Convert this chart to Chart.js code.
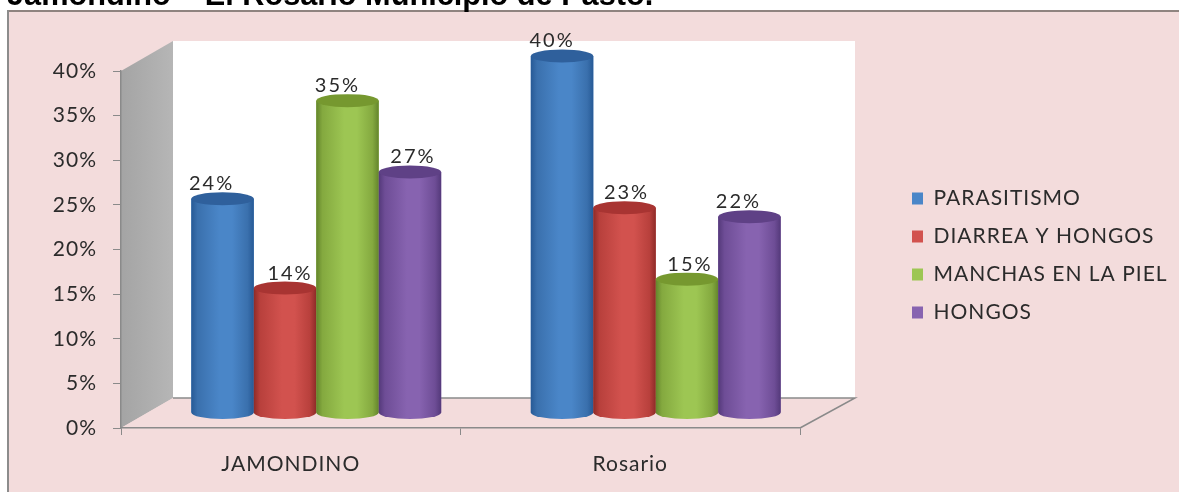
<!DOCTYPE html>
<html>
<head>
<meta charset="utf-8">
<style>
  html, body { margin: 0; padding: 0; background: #fff; overflow: hidden; }
  #wrap { width: 1179px; height: 492px; }
</style>
<script src="https://cdn.jsdelivr.net/npm/chart.js@4"></script>
</head>
<body>
<div id="wrap"><canvas id="grafico" width="1179" height="492"></canvas></div>
<script>
// datos
const categorias = ["JAMONDINO", "Rosario"];
const parasitismo = [24, 40];
const diarrea = [14, 23];
const manchas = [35, 15];
const hongos = [27, 22];
const nombres = ["PARASITISMO", "DIARREA Y HONGOS", "MANCHAS EN LA PIEL", "HONGOS"];
const titulo = "Jamondino – El Rosario Municipio de Pasto.";

const colores = ["#4a86c8", "#d2524e", "#9dc653", "#8763b0"];
const medios = ["#3a70ad", "#b8403c", "#84a93f", "#6e4d96"];
const oscuros = ["#275a96", "#8e2b28", "#64852c", "#54397a"];
const tapas = ["#2f609c", "#a83432", "#76982f", "#5f4186"];

// profundidad del piso y posicion de las barras dentro de el
const fondoX = 52, fondoY = -30;
const barraX = 25.5, barraY = -15;
const alturaTapa = 6.5;
const fuente = "Lato, 'Open Sans', sans-serif";
const tinta = "#2b2b2b";
// las etiquetas del original no estan centradas sobre las barras
const corrimiento = [[-11, -10], [5, 2], [-10, 3], [3, -11]];

const escena = {
  id: "escena",
  start(chart) {
    const fit = chart.legend.fit;
    chart.legend.fit = function () {
      fit.call(this);
      this.width = 379;
    };
  },
  afterLayout(chart) {
    chart.legend.left = 895;
    chart.legend.top = 171;
    chart.legend.bottom = 341;
  },
  beforeDraw(chart) {
    const c = chart.ctx;
    const { x, y } = chart.scales;
    const izq = x.left, der = x.right;
    const arriba = y.getPixelForValue(40), base = y.getPixelForValue(0);

    // Calibri estirado en el original, va aqui porque el resize limpia el contexto
    c.letterSpacing = "1px";

    c.save();
    c.fillStyle = "#ffffff";
    c.fillRect(0, 0, chart.width, chart.height);

    // marco rosado
    c.fillStyle = "#f3dcdc";
    c.fillRect(8, 12, chart.width - 8, chart.height - 12);
    c.fillStyle = "#8f8480";
    c.fillRect(7, 10, chart.width - 7, 2);
    c.fillStyle = "#8c8c8c";
    c.fillRect(7, 10, 2, chart.height - 10);

    // titulo cortado por arriba
    c.letterSpacing = "0px";
    c.fillStyle = "#000";
    c.font = "bold 30.7px 'Liberation Sans', Arial, sans-serif";
    c.textAlign = "left";
    c.textBaseline = "alphabetic";
    c.fillText(titulo, 7, 5);

    // pared del fondo
    c.fillStyle = "#ffffff";
    c.fillRect(izq + fondoX, arriba + fondoY, der - izq + 3, base - arriba);

    // pared lateral gris
    const g = c.createLinearGradient(izq, 0, izq + fondoX, 0);
    g.addColorStop(0, "#a4a4a4");
    g.addColorStop(1, "#b6b6b6");
    c.fillStyle = g;
    c.beginPath();
    c.moveTo(izq, arriba);
    c.lineTo(izq + fondoX, arriba + fondoY);
    c.lineTo(izq + fondoX, base + fondoY);
    c.lineTo(izq, base);
    c.closePath();
    c.fill();

    // piso
    c.fillStyle = "#f3dcdc";
    c.strokeStyle = "#8a8a8a";
    c.lineWidth = 1.5;
    c.beginPath();
    c.moveTo(izq, base);
    c.lineTo(izq + fondoX, base + fondoY);
    c.lineTo(der + fondoX + 3, base + fondoY);
    c.lineTo(der, base);
    c.closePath();
    c.fill();
    c.beginPath();
    c.moveTo(izq + fondoX, base + fondoY);
    c.lineTo(der + fondoX + 3, base + fondoY);
    c.lineTo(der, base);
    c.stroke();
    c.restore();
  },
  beforeDatasetsDraw(chart) {
    chart.ctx.save();
    chart.ctx.translate(barraX, barraY);
  },
  afterDatasetsDraw(chart) {
    const c = chart.ctx;
    // cilindros encima de las barras de la libreria, en orden de serie
    chart.data.datasets.forEach((ds, i) => {
      chart.getDatasetMeta(i).data.forEach((barra) => {
        const { x, y, base, width } = barra.getProps(["x", "y", "base", "width"], true);
        const izq = x - width / 2, der = x + width / 2;
        const g = c.createLinearGradient(izq, 0, der, 0);
        g.addColorStop(0, oscuros[i]);
        g.addColorStop(0.1, medios[i]);
        g.addColorStop(0.45, colores[i]);
        g.addColorStop(0.65, colores[i]);
        g.addColorStop(0.9, medios[i]);
        g.addColorStop(1, oscuros[i]);
        c.fillStyle = g;
        c.beginPath();
        c.moveTo(izq, y);
        c.lineTo(der, y);
        c.lineTo(der, base);
        c.ellipse(x, base, width / 2, alturaTapa, 0, 0, Math.PI);
        c.closePath();
        c.fill();
        c.fillStyle = tapas[i];
        c.beginPath();
        c.ellipse(x, y, width / 2, alturaTapa, 0, 0, Math.PI * 2);
        c.fill();
      });
    });
    // etiquetas de porcentaje
    c.fillStyle = tinta;
    c.font = "20px " + fuente;
    c.letterSpacing = "2px";
    c.textAlign = "center";
    c.textBaseline = "bottom";
    chart.data.datasets.forEach((ds, i) => {
      chart.getDatasetMeta(i).data.forEach((barra, j) => {
        c.fillText(ds.data[j] + "%", barra.x + corrimiento[i][j], barra.y - 5);
      });
    });
    c.restore();
  }
};

new Chart(document.getElementById("grafico"), {
  type: "bar",
  data: {
    labels: categorias,
    datasets: [
      { label: nombres[0], data: parasitismo, backgroundColor: colores[0] },
      { label: nombres[1], data: diarrea, backgroundColor: colores[1] },
      { label: nombres[2], data: manchas, backgroundColor: colores[2] },
      { label: nombres[3], data: hongos, backgroundColor: colores[3] }
    ]
  },
  plugins: [escena],
  options: {
    responsive: false,
    animation: false,
    layout: { padding: { top: 71, left: 0, right: 0, bottom: 0 } },
    categoryPercentage: 0.736,
    barPercentage: 1,
    scales: {
      x: {
        afterFit(s) { s.height = 64; },
        grid: { offset: true, drawOnChartArea: false, tickLength: 7, color: "#8a8a8a" },
        border: { color: "#8a8a8a", width: 1.5 },
        ticks: { color: tinta, padding: 17, font: { family: fuente, size: 21 } }
      },
      y: {
        min: 0,
        max: 40,
        afterFit(s) { s.width = 121; },
        grid: { drawOnChartArea: false, tickLength: 8, color: "#8a8a8a" },
        border: { color: "#8a8a8a", width: 1.5 },
        ticks: {
          stepSize: 5,
          color: tinta,
          padding: 16,
          font: { family: fuente, size: 21 },
          callback: v => v + "%"
        }
      }
    },
    plugins: {
      title: { display: false },
      tooltip: { enabled: false },
      legend: {
        position: "right",
        align: "start",
        labels: {
          boxWidth: 11,
          boxHeight: 12,
          padding: 17,
          color: tinta,
          font: { family: fuente, size: 21 }
        }
      }
    }
  }
});
</script>
</body>
</html>
